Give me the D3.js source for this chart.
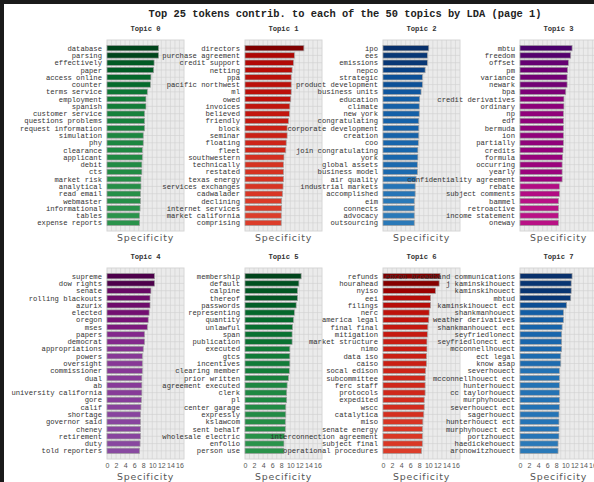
<!DOCTYPE html>
<html>
<head>
<meta charset="utf-8">
<script src="https://cdnjs.cloudflare.com/ajax/libs/d3/7.8.5/d3.min.js"></script>
<style>
  body { margin: 0; background: #fff; }
  svg { display: block; }
</style>
</head>
<body>
<div id="chart"></div>
<script>
// chart values
const title = 'Top 25 tokens contrib. to each of the 50 topics by LDA (page 1)';
const topicNames = ['Topic 0', 'Topic 1', 'Topic 2', 'Topic 3', 'Topic 4', 'Topic 5', 'Topic 6', 'Topic 7'];
const xTicks = [0, 2, 4, 6, 8, 10, 12, 14, 16];

const tokens0 = ['database', 'parsing', 'effectively', 'paper', 'access online', 'counter', 'terms service', 'employment', 'spanish', 'customer service', 'questions problems', 'request information', 'simulation', 'phy', 'clearance', 'applicant', 'debit', 'cts', 'market risk', 'analytical', 'read email', 'webmaster', 'informational', 'tables', 'expense reports'];
const spec0 = [11.4, 11.4, 10.4, 10.3, 9.7, 9.6, 8.9, 8.6, 8.6, 8.3, 8.3, 8.3, 8.0, 8.0, 7.8, 7.8, 7.7, 7.7, 7.5, 7.5, 7.4, 7.4, 7.3, 7.2, 7.2];

const tokens1 = ['directors', 'purchase agreement', 'credit support', 'netting', 'ppa', 'pacific northwest', 'ml', 'owed', 'invoices', 'believed', 'friendly', 'block', 'seminar', 'floating', 'fleet', 'southwestern', 'technically', 'restated', 'texas energy', 'services exchanges', 'cadwalader', 'declining', 'internet services', 'market california', 'comprising'];
const spec1 = [13.0, 10.9, 10.7, 10.4, 10.2, 10.2, 10.2, 10.1, 9.9, 9.8, 9.6, 9.3, 9.3, 9.1, 9.0, 8.6, 8.5, 8.5, 8.5, 8.4, 8.3, 8.1, 8.1, 8.0, 8.0];

const tokens2 = ['ipo', 'ees', 'emissions', 'nepco', 'strategic', 'product development', 'business units', 'education', 'climate', 'new york', 'congratulating', 'corporate development', 'creation', 'coo', 'join congratulating', 'york', 'global assets', 'business model', 'air quality', 'industrial markets', 'accomplished', 'eim', 'connects', 'advocacy', 'outsourcing'];
const spec2 = [10.1, 9.8, 9.8, 9.3, 8.7, 8.7, 8.4, 8.1, 8.0, 8.0, 7.9, 7.9, 7.9, 7.8, 7.7, 7.7, 7.6, 7.6, 7.3, 7.1, 7.1, 6.9, 6.9, 6.9, 6.9];

const tokens3 = ['mbtu', 'freedom', 'offset', 'pm', 'variance', 'newark', 'bpa', 'credit derivatives', 'ordinary', 'np', 'edf', 'bermuda', 'ion', 'partially', 'credits', 'formula', 'occurring', 'yearly', 'confidentiality agreement', 'rebate', 'subject comments', 'bammel', 'retroactive', 'income statement', 'oneway'];
const spec3 = [11.5, 11.2, 10.7, 10.5, 10.4, 10.4, 10.1, 9.7, 9.7, 9.6, 9.6, 9.6, 9.6, 9.6, 9.5, 9.4, 9.3, 9.3, 9.3, 8.7, 8.7, 8.5, 8.5, 8.5, 8.5];

const tokens4 = ['supreme', 'dow rights', 'senate', 'rolling blackouts', 'azurix', 'elected', 'oregon', 'mses', 'papers', 'democrat', 'appropriations', 'powers', 'oversight', 'commissioner', 'dual', 'ab', 'university california', 'gore', 'calif', 'shortage', 'governor said', 'cheney', 'retirement', 'duty', 'told reporters'];
const spec4 = [10.5, 10.5, 9.7, 9.5, 9.5, 9.3, 9.1, 8.9, 8.3, 8.3, 8.0, 7.8, 7.8, 7.8, 7.7, 7.7, 7.7, 7.6, 7.5, 7.4, 7.4, 7.4, 7.4, 7.3, 7.2];

const tokens5 = ['membership', 'default', 'calpine', 'thereof', 'passwords', 'representing', 'quantity', 'unlawful', 'span', 'publication', 'executed', 'gtcs', 'incentives', 'clearing member', 'prior written', 'agreement executed', 'clerk', 'pl', 'center garage', 'expressly', 'kslawcom', 'sent behalf', 'wholesale electric', 'enfolio', 'person use'];
const spec5 = [12.4, 11.9, 11.6, 11.6, 11.3, 10.9, 10.7, 10.5, 10.4, 10.4, 9.9, 9.9, 9.9, 9.8, 9.6, 9.3, 9.2, 9.2, 9.0, 9.0, 8.9, 8.9, 8.7, 8.6, 8.6];

const tokens6 = ['refunds', 'hourahead', 'nyiso', 'eei', 'filings', 'nerc', 'america legal', 'final final', 'mitigation', 'market structure', 'nimo', 'data iso', 'caiso', 'socal edison', 'subcommittee', 'ferc staff', 'protocols', 'expedited', 'wscc', 'catalytica', 'miso', 'senate energy', 'interconnection agreement', 'subject final', 'operational procedures'];
const spec6 = [12.6, 12.4, 11.6, 10.5, 10.5, 10.2, 10.1, 9.9, 9.8, 9.7, 9.7, 9.6, 9.6, 9.4, 9.3, 9.3, 9.3, 9.1, 9.1, 9.0, 8.8, 8.7, 8.7, 8.7, 8.5];

const tokens7 = ['enron broadband communications', 'j kaminskihouect', 'kaminskihouect', 'mbtud', 'kaminskihouect ect', 'shankmanhouect', 'weather derivatives', 'shankmanhouect ect', 'seyfriedlonect', 'seyfriedlonect ect', 'mcconnellhouect', 'ect legal', 'know asap', 'severhouect', 'mcconnellhouect ect', 'hunterhouect', 'cc taylorhouect', 'murphyhouect', 'severhouect ect', 'sagerhouect', 'hunterhouect ect', 'murphyhouect ect', 'portzhouect', 'haedickehouect', 'aronowitzhouect'];
const spec7 = [11.5, 11.3, 11.3, 11.2, 10.3, 9.6, 9.6, 9.3, 9.2, 9.2, 9.2, 9.0, 9.0, 8.7, 8.7, 8.7, 8.7, 8.7, 8.7, 8.6, 8.6, 8.6, 8.6, 8.4, 8.4];

const allTokens = [tokens0, tokens1, tokens2, tokens3, tokens4, tokens5, tokens6, tokens7];
const allSpec = [spec0, spec1, spec2, spec3, spec4, spec5, spec6, spec7];
const colorMaps = [d3.interpolateGreens, d3.interpolateOrRd, d3.interpolateBlues, d3.interpolateRdPu,
                   d3.interpolateBuPu, d3.interpolateGreens, d3.interpolateOrRd, d3.interpolateBlues];

// layout
const W = 594, H = 482;
const panelLeft = [107, 245, 383, 520];
const panelTop = [40, 268];
const pw = 77, ph = 191;

const svg = d3.select('#chart').append('svg')
    .attr('width', W)
    .attr('height', H);

svg.append('rect').attr('width', W).attr('height', H).attr('fill', '#fff');

svg.append('text')
    .attr('x', 345)
    .attr('y', 17)
    .attr('text-anchor', 'middle')
    .attr('font-family', 'Liberation Mono, monospace')
    .attr('font-weight', 'bold')
    .attr('font-size', 10.4)
    .attr('fill', '#222')
    .text(title);

let x = d3.scaleLinear().domain([0, 17]).range([0, pw]);

allTokens.forEach(function (tokens, i) {
    let row = Math.floor(i / 4);
    let col = i % 4;
    let g = svg.append('g')
        .attr('transform', 'translate(' + panelLeft[col] + ',' + panelTop[row] + ')');

    let y = d3.scaleBand()
        .domain(tokens)
        .range([0, ph])
        .paddingInner(0.26)
        .paddingOuter(0.75);

    let vals = allSpec[i];
    let color = d3.scaleLinear()
        .domain([d3.min(vals), d3.max(vals)])
        .range([0.72, 1.0]);

    g.append('rect')
        .attr('width', pw)
        .attr('height', ph)
        .attr('fill', '#ebebeb')
        .attr('stroke', '#d6d6d6');

    // grid
    g.selectAll('.vgrid')
        .data(d3.range(1, 17))
        .enter().append('line')
        .attr('x1', d => x(d)).attr('x2', d => x(d))
        .attr('y1', 0).attr('y2', ph)
        .attr('stroke', '#d0d0d0')
        .attr('stroke-width', 0.6);
    g.selectAll('.hgrid')
        .data(tokens)
        .enter().append('line')
        .attr('x1', 0).attr('x2', pw)
        .attr('y1', d => y(d) + y.bandwidth() / 2)
        .attr('y2', d => y(d) + y.bandwidth() / 2)
        .attr('stroke', '#d0d0d0')
        .attr('stroke-width', 0.6);

    g.selectAll('.bar')
        .data(tokens)
        .enter().append('rect')
        .attr('x', 0)
        .attr('y', d => y(d))
        .attr('width', (d, j) => x(vals[j]))
        .attr('height', y.bandwidth())
        .attr('fill', (d, j) => colorMaps[i](color(vals[j])))
        .attr('stroke', '#a0a0a0')
        .attr('stroke-width', 0.7);

    g.selectAll('.lbl')
        .data(tokens)
        .enter().append('text')
        .attr('x', -5)
        .attr('y', d => y(d) + y.bandwidth() / 2)
        .attr('dy', '0.35em')
        .attr('text-anchor', 'end')
        .attr('font-family', 'Liberation Mono, monospace')
        .attr('font-size', 7.2)
        .attr('fill', '#333')
        .text(d => d);

    g.append('text')
        .attr('x', pw / 2)
        .attr('y', -9)
        .attr('text-anchor', 'middle')
        .attr('font-family', 'Liberation Mono, monospace')
        .attr('font-weight', 'bold')
        .attr('font-size', 7.2)
        .attr('fill', '#333')
        .text(topicNames[i]);

    let labelY = ph + 7;
    if (row == 1) {
        let axis = d3.axisBottom(x).tickValues(xTicks).tickSize(0).tickPadding(4);
        let ax = g.append('g')
            .attr('transform', 'translate(0,' + ph + ')')
            .call(axis);
        ax.select('.domain').remove();
        ax.selectAll('text')
            .attr('font-family', 'Liberation Sans, sans-serif')
            .attr('font-size', 7)
            .attr('fill', '#555');
        labelY = ph + 18;
    }

    g.append('text')
        .attr('x', pw / 2)
        .attr('y', labelY)
        .attr('dy', '0.35em')
        .attr('text-anchor', 'middle')
        .attr('font-family', 'DejaVu Sans, sans-serif')
        .attr('font-size', 9.4)
        .attr('letter-spacing', 0.8)
        .attr('fill', '#555')
        .text('Specificity');
});

// dark frame of the screenshot
svg.append('rect').attr('x', 0).attr('y', 0).attr('width', W).attr('height', 4).attr('fill', '#1a1a1a');
svg.append('rect').attr('x', 0).attr('y', 0).attr('width', 4).attr('height', H).attr('fill', '#1a1a1a');
</script>
</body>
</html>
